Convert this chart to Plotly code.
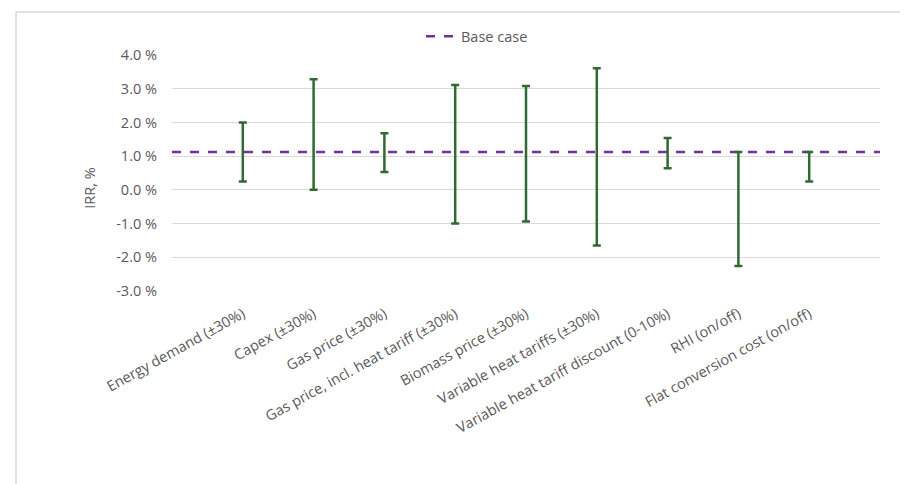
import plotly.graph_objects as go

categories = [
    "Energy demand (±30%)",
    "Capex (±30%)",
    "Gas price (±30%)",
    "Gas price, incl. heat tariff (±30%)",
    "Biomass price (±30%)",
    "Variable heat tariffs (±30%)",
    "Variable heat tariff discount (0-10%)",
    "RHI (on/off)",
    "Flat conversion cost (on/off)",
]
base_case = 1.12
high_values = [2.00, 3.28, 1.68, 3.11, 3.08, 3.61, 1.54, 1.12, 1.12]
low_values = [0.25, 0.00, 0.53, -1.00, -0.94, -1.65, 0.64, -2.26, 0.25]
y_tick_values = [4, 3, 2, 1, 0, -1, -2, -3]
y_tick_labels = ["4.0 %", "3.0 %", "2.0 %", "1.0 %", "0.0 %", "-1.0 %", "-2.0 %", "-3.0 %"]

FONT = "'Open Sans', sans-serif"
FS = 14.5
GREY = "#595959"
GREEN = "#2F6A31"
PURPLE = "#7030A0"

xs = list(range(len(categories)))
plus = [h - base_case for h in high_values]
minus = [base_case - l for l in low_values]

fig = go.Figure()
fig.add_trace(go.Scatter(
    x=[-1, len(categories)], y=[base_case, base_case],
    mode="lines", name="Base case",
    line=dict(color=PURPLE, width=2.5, dash="dash"),
    hoverinfo="skip",
))
fig.add_trace(go.Scatter(
    x=xs, y=[base_case] * len(xs), mode="markers",
    marker=dict(size=1, color="rgba(0,0,0,0)"),
    error_y=dict(type="data", symmetric=False, array=plus, arrayminus=minus,
                 color=GREEN, thickness=2.5, width=4),
    showlegend=False,
))

# page has an 8px body margin; figure coordinates = page coordinates - 8
OFF = 8
W, H = 908 - OFF, 484 - OFF
L, T = 172 - OFF, 52 - OFF
pw, ph = 708, 239
R = W - L - pw
B = H - T - ph

def px_x(p):
    return (p - OFF - L) / pw

def px_y(p):
    return (H - B - (p - OFF)) / ph

fig.add_shape(type="line", xref="paper", yref="paper",
              x0=px_x(16), x1=px_x(912), y0=px_y(8.5), y1=px_y(8.5),
              line=dict(color="#D9D9D9", width=1.5))
fig.add_shape(type="line", xref="paper", yref="paper",
              x0=px_x(16), x1=px_x(16), y0=px_y(8.5), y1=px_y(490),
              line=dict(color="#D9D9D9", width=1.5))

fig.add_annotation(text="IRR, %", xref="paper", yref="paper",
                   x=px_x(78), y=px_y(187), textangle=-90, showarrow=False,
                   font=dict(family=FONT, size=FS, color=GREY))

fig.update_layout(
    width=W, height=H,
    margin=dict(l=L, r=R, t=T, b=B),
    paper_bgcolor="white", plot_bgcolor="white",
    font=dict(family=FONT, size=FS, color=GREY),
    showlegend=True,
    legend=dict(orientation="h", x=px_x(421), y=px_y(33), xanchor="left", yanchor="middle",
                font=dict(family=FONT, size=FS, color=GREY), bgcolor="rgba(0,0,0,0)"),
    xaxis=dict(range=[-1, len(categories)], tickmode="array", tickvals=xs, ticktext=categories,
               tickangle=-29, showgrid=False, zeroline=False, showline=False, ticks="",
               ticklabelstandoff=11,
               tickfont=dict(family=FONT, size=FS, color=GREY)),
    yaxis=dict(range=[-3, 4], tickmode="array", tickvals=y_tick_values, ticktext=y_tick_labels,
               showgrid=True, gridcolor="#D9D9D9", gridwidth=1, zeroline=False, showline=False,
               ticks="", ticklabelstandoff=14,
               tickfont=dict(family=FONT, size=FS, color=GREY)),
)

fig.write_html("out.html")
